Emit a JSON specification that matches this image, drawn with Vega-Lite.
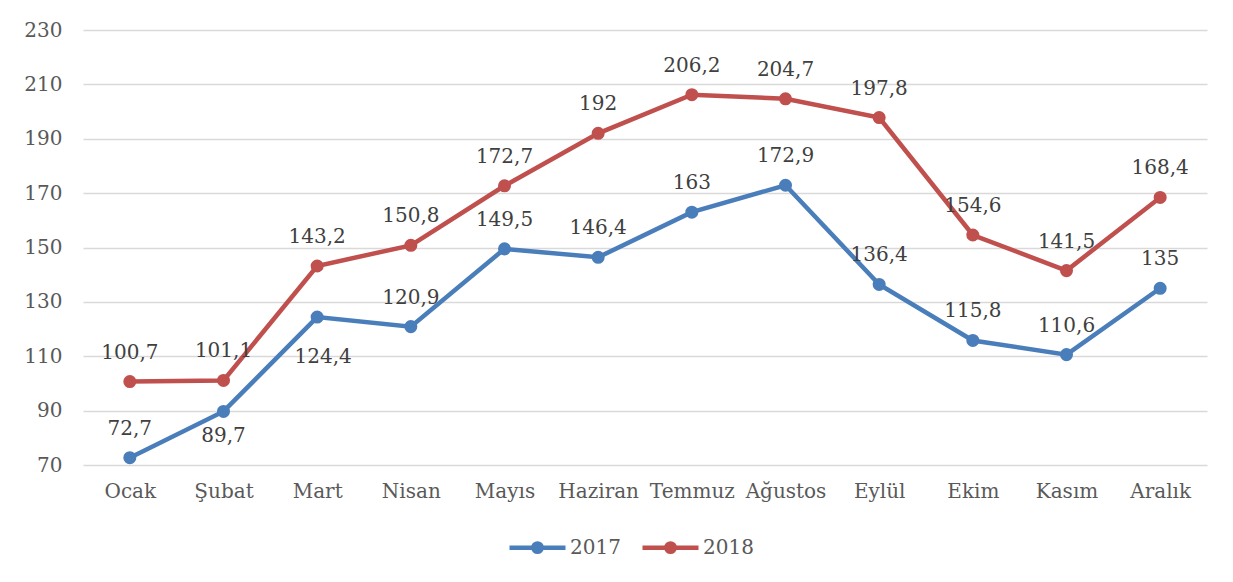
{
  "$schema": "https://vega.github.io/schema/vega-lite/v6.json",
  "width": 1124,
  "height": 435,
  "autosize": {"type": "none"},
  "padding": {"left": 83, "top": 30, "right": 26, "bottom": 117},
  "background": "white",
  "config": {
    "font": "DejaVu Serif",
    "view": {"stroke": null},
    "locale": {"number": {"decimal": ",", "thousands": ".", "grouping": [3], "currency": ["", ""]}},
    "axis": {"labelFont": "DejaVu Serif", "labelFontSize": 20, "labelColor": "#595959", "ticks": false, "domain": false, "title": null},
    "text": {"font": "DejaVu Serif"}
  },
  "data": {
    "values": [
      {"month": "Ocak", "year": "2017", "value": 72.7},
      {"month": "Şubat", "year": "2017", "value": 89.7},
      {"month": "Mart", "year": "2017", "value": 124.4},
      {"month": "Nisan", "year": "2017", "value": 120.9},
      {"month": "Mayıs", "year": "2017", "value": 149.5},
      {"month": "Haziran", "year": "2017", "value": 146.4},
      {"month": "Temmuz", "year": "2017", "value": 163},
      {"month": "Ağustos", "year": "2017", "value": 172.9},
      {"month": "Eylül", "year": "2017", "value": 136.4},
      {"month": "Ekim", "year": "2017", "value": 115.8},
      {"month": "Kasım", "year": "2017", "value": 110.6},
      {"month": "Aralık", "year": "2017", "value": 135},
      {"month": "Ocak", "year": "2018", "value": 100.7},
      {"month": "Şubat", "year": "2018", "value": 101.1},
      {"month": "Mart", "year": "2018", "value": 143.2},
      {"month": "Nisan", "year": "2018", "value": 150.8},
      {"month": "Mayıs", "year": "2018", "value": 172.7},
      {"month": "Haziran", "year": "2018", "value": 192},
      {"month": "Temmuz", "year": "2018", "value": 206.2},
      {"month": "Ağustos", "year": "2018", "value": 204.7},
      {"month": "Eylül", "year": "2018", "value": 197.8},
      {"month": "Ekim", "year": "2018", "value": 154.6},
      {"month": "Kasım", "year": "2018", "value": 141.5},
      {"month": "Aralık", "year": "2018", "value": 168.4}
    ]
  },
  "encoding": {
    "x": {
      "field": "month", "type": "nominal", "sort": null,
      "scale": {"type": "point", "padding": 0.5},
      "axis": {"labelAngle": 0, "labelPadding": 16, "grid": false}
    },
    "y": {
      "field": "value", "type": "quantitative",
      "scale": {"domain": [70, 230], "nice": false, "zero": false},
      "axis": {"values": [70, 90, 110, 130, 150, 170, 190, 210, 230], "grid": true, "gridColor": "#d9d9d9", "gridWidth": 1.5, "labelPadding": 21}
    },
    "color": {
      "field": "year", "type": "nominal",
      "scale": {"domain": ["2017", "2018"], "range": ["#4a7ebb", "#c0504d"]},
      "legend": {
        "orient": "none", "direction": "horizontal", "legendX": 424, "legendY": 487,
        "title": null,
        "symbolType": "M-1,0H1M0.15,0A0.15,0.15 0 1,1 -0.15,0A0.15,0.15 0 1,1 0.15,0",
        "symbolSize": 3136, "symbolStrokeWidth": 4.5, "symbolOpacity": 1,
        "labelFont": "DejaVu Serif", "labelFontSize": 20, "labelColor": "#595959",
        "labelOffset": 2, "columnPadding": 12
      }
    }
  },
  "layer": [
    {"mark": {"type": "line", "strokeWidth": 4.5, "point": {"size": 170, "filled": true, "opacity": 1}}},
    {
      "transform": [{"filter": "!(datum.year == '2017' && (datum.month == 'Şubat' || datum.month == 'Mart'))"}],
      "mark": {"type": "text", "dy": -29, "fontSize": 20, "font": "DejaVu Serif"},
      "encoding": {"text": {"field": "value", "type": "quantitative", "format": ".1~f"}, "color": {"value": "#404040"}}
    },
    {
      "transform": [{"filter": "datum.year == '2017' && datum.month == 'Şubat'"}],
      "mark": {"type": "text", "dy": 25, "fontSize": 20, "font": "DejaVu Serif"},
      "encoding": {"text": {"field": "value", "type": "quantitative", "format": ".1~f"}, "color": {"value": "#404040"}}
    },
    {
      "transform": [{"filter": "datum.year == '2017' && datum.month == 'Mart'"}],
      "mark": {"type": "text", "dy": 40, "dx": 6, "fontSize": 20, "font": "DejaVu Serif"},
      "encoding": {"text": {"field": "value", "type": "quantitative", "format": ".1~f"}, "color": {"value": "#404040"}}
    }
  ]
}
